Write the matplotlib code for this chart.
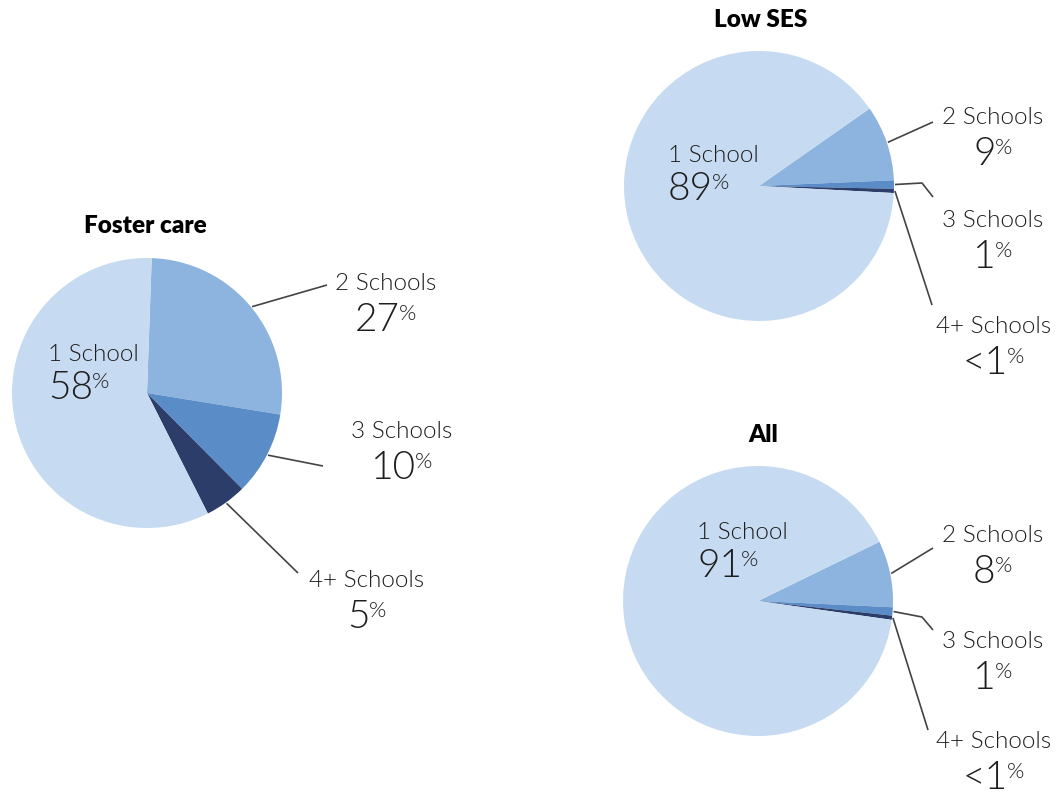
import numpy as np
import matplotlib.pyplot as plt

plt.rcParams['font.family'] = ['Lato', 'DejaVu Sans']

# data
labels = ['2 Schools', '3 Schools', '4+ Schools', '1 School']
foster = [27, 10, 5, 58]
low_ses = [9, 1, 0.5, 89]
all_kids = [8, 1, 0.5, 91]
foster_txt = ['27', '10', '5', '58']
low_ses_txt = ['9', '1', '<1', '89']
all_txt = ['8', '1', '<1', '91']
colors = ['#8db3df', '#5a8cc8', '#2c3d6a', '#c6dbf1']

W, H = 1060, 796
fig = plt.figure(figsize=(W / 100, H / 100), dpi=100)
ax = fig.add_axes([0, 0, 1, 1])
txt_col = '#1e1e1e'
line_col = '#444444'
LW = 300  # text weight


def Y(y):
    return H - y


def num_pct(x, y, num, align='center'):
    t = ax.text(0, 0, num, fontsize=28, color=txt_col, fontweight=LW,
                ha='left', va='baseline')
    p = ax.text(0, 0, '%', fontsize=16, color=txt_col, fontweight=LW,
                ha='left', va='baseline')
    r = fig.canvas.get_renderer()
    wn = t.get_window_extent(r).width
    wp = p.get_window_extent(r).width
    x0 = x - (wn + wp) / 2 if align == 'center' else x
    t.set_position((x0, Y(y)))
    p.set_position((x0 + wn - 1, Y(y - 11)))


def draw_pie(vals, txts, cx, cy, start, title, title_pos, inner_pos, outer, lines):
    wedges, _ = ax.pie(vals, colors=colors, startangle=start, counterclock=False,
                       center=(cx, Y(cy)), radius=135,
                       wedgeprops=dict(linewidth=0))
    ax.text(title_pos[0], Y(title_pos[1]), title, fontsize=17.5, fontweight='heavy',
            color='black', ha='center', va='baseline')
    # inner label for 1 School
    ax.text(inner_pos[0], Y(inner_pos[1]), labels[3], fontsize=17.5, color=txt_col,
            fontweight=LW, ha='left', va='baseline')
    num_pct(inner_pos[0], inner_pos[1] + 38, txts[3], align='left')
    for i in range(3):
        lx, ly = outer[i]
        ax.text(lx, Y(ly), labels[i], fontsize=17.5, color=txt_col,
                fontweight=LW, ha='center', va='baseline')
        num_pct(lx, ly + 41, txts[i])
        w = wedges[i]
        th = np.deg2rad((w.theta1 + w.theta2) / 2)
        sx = cx + 136 * np.cos(th)
        sy = Y(cy) + 136 * np.sin(th)
        xs = [sx] + [p[0] for p in lines[i]]
        ys = [sy] + [Y(p[1]) for p in lines[i]]
        ax.plot(xs, ys, color=line_col, lw=1.2, solid_capstyle='butt')


draw_pie(foster, foster_txt, 147, 393, 88, 'Foster care', (145, 233), (48, 361),
         [(386, 290), (402, 438), (367, 587)],
         [[(327, 285)], [(323, 466)], [(298, 573)]])

draw_pie(low_ses, low_ses_txt, 759, 186, 35, 'Low SES', (761, 27), (668, 162),
         [(993, 124), (993, 227), (994, 333)],
         [[(933, 122)], [(922, 183), (933, 197)], [(932, 305)]])

draw_pie(all_kids, all_txt, 758, 601, 26, 'All', (763, 442), (697, 539),
         [(993, 542), (993, 648), (994, 748)],
         [[(933, 548)], [(922, 617), (933, 630)], [(928, 730)]])

ax.set_xlim(0, W)
ax.set_ylim(0, H)
ax.set_aspect('auto')
ax.axis('off')

fig.savefig('out.png', dpi=100)
